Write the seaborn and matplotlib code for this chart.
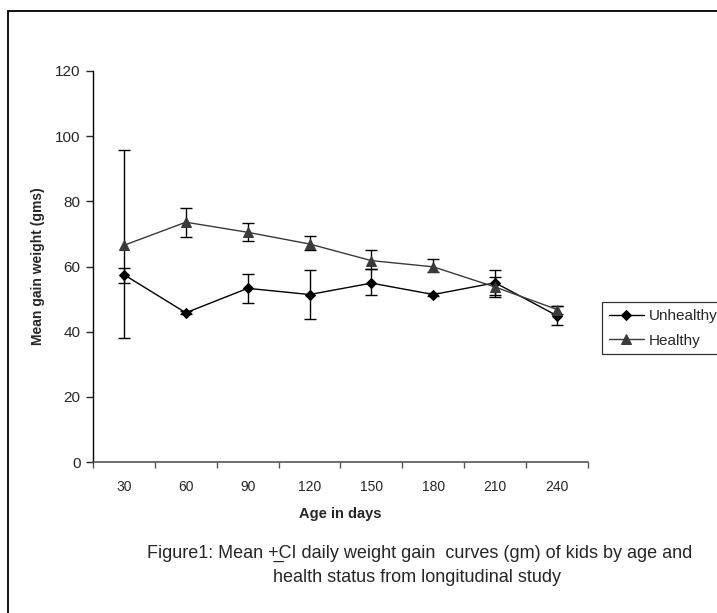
import numpy as np
import pandas as pd
import matplotlib
matplotlib.use('Agg')
import matplotlib.pyplot as plt
from matplotlib.patches import Rectangle
import seaborn as sns

# Values
days = [30, 60, 90, 120, 150, 180, 210, 240]
unhealthy_mean = [57.5, 45.8, 53.3, 51.4, 54.9, 51.4, 55.0, 44.9]
unhealthy_lo = [55.0, 45.3, 48.9, 43.9, 51.1, 50.9, 51.2, 41.9]
unhealthy_hi = [59.6, 46.3, 57.6, 58.9, 59.1, 51.9, 58.8, 47.9]
healthy_mean = [66.5, 73.6, 70.5, 66.9, 61.8, 59.9, 53.7, 46.8]
healthy_lo = [38.1, 69.0, 67.8, 65.0, 59.1, 58.2, 50.6, 45.5]
healthy_hi = [95.7, 78.1, 73.4, 69.3, 65.1, 62.2, 56.8, 48.0]
y_ticks = [0, 20, 40, 60, 80, 100, 120]

df = pd.DataFrame({
    'Age': days * 2,
    'Gain': unhealthy_mean + healthy_mean,
    'Status': ['Unhealthy'] * len(days) + ['Healthy'] * len(days),
})

sns.set_style('white')
plt.rcParams['font.family'] = ['Liberation Sans', 'DejaVu Sans']

fig = plt.figure(figsize=(7.17, 6.13), dpi=100)
ax = fig.add_axes([93 / 717, 1 - 462 / 613, (588 - 93) / 717, (462 - 71) / 613])

colors = {'Unhealthy': '#000000', 'Healthy': '#3a3a3a'}
markers = {'Unhealthy': 'D', 'Healthy': '^'}
sizes = {'Unhealthy': 5, 'Healthy': 7}

# error bars first, then lines with markers
for name, mean, lo, hi in [('Healthy', healthy_mean, healthy_lo, healthy_hi),
                           ('Unhealthy', unhealthy_mean, unhealthy_lo, unhealthy_hi)]:
    m = np.array(mean)
    yerr = [m - np.array(lo), np.array(hi) - m]
    ax.errorbar(days, m, yerr=yerr, fmt='none', ecolor='black',
                elinewidth=1.0, capsize=4, capthick=1.0, zorder=2)

for name in ['Unhealthy', 'Healthy']:
    sub = df[df['Status'] == name]
    sns.lineplot(data=sub, x='Age', y='Gain', ax=ax, color=colors[name],
                 marker=markers[name], markersize=sizes[name],
                 markeredgecolor=colors[name], linewidth=1.0, label=name,
                 legend=False, zorder=3)

ax.set_xlim(15, 255)
ax.set_ylim(0, 120)
ax.set_yticks(y_ticks)
ax.set_xticks(days)
ax.set_xticks(np.arange(15, 256, 30), minor=True)
ax.tick_params(axis='x', which='major', length=0, pad=13, labelsize=10)
ax.tick_params(axis='x', which='minor', length=4, width=1, color='#555555',
               direction='out', bottom=True)
ax.tick_params(axis='y', length=5, width=1, direction='out', left=True,
               labelsize=11, pad=4)

for side in ['top', 'right']:
    ax.spines[side].set_visible(False)
ax.spines['left'].set_color('black')
ax.spines['left'].set_linewidth(1.0)
ax.spines['bottom'].set_color('#555555')
ax.spines['bottom'].set_linewidth(1.2)

ax.set_xlabel('Age in days', fontsize=10.5, fontweight='bold', labelpad=9)
ax.set_ylabel('Mean gain weight (gms)', fontsize=10, fontweight='bold', labelpad=7)

handles, labels = ax.get_legend_handles_labels()
leg = fig.legend(handles, labels, loc='upper left',
                 bbox_to_anchor=(602 / 717, 1 - 302 / 613),
                 frameon=True, fancybox=False, edgecolor='black',
                 fontsize=11, handlelength=2.3, handletextpad=0.3,
                 borderpad=0.45, labelspacing=0.7, borderaxespad=0)
leg.get_frame().set_linewidth(0.9)

fig.text(420 / 717, 1 - 553 / 613,
         'Figure1: Mean +\u0332CI daily weight gain  curves (gm) of kids by age and',
         ha='center', va='center', fontsize=13)
fig.text(417 / 717, 1 - 578 / 613, 'health status from longitudinal study',
         ha='center', va='center', fontsize=13)

# outer frame of the chart area
fig.patches.append(Rectangle((8 / 717, -0.2), 1.5, 1.2 + (1 - 11 / 613) - 1,
                             transform=fig.transFigure, fill=False,
                             edgecolor='black', linewidth=1.3))

fig.savefig('out.png', dpi=100)
